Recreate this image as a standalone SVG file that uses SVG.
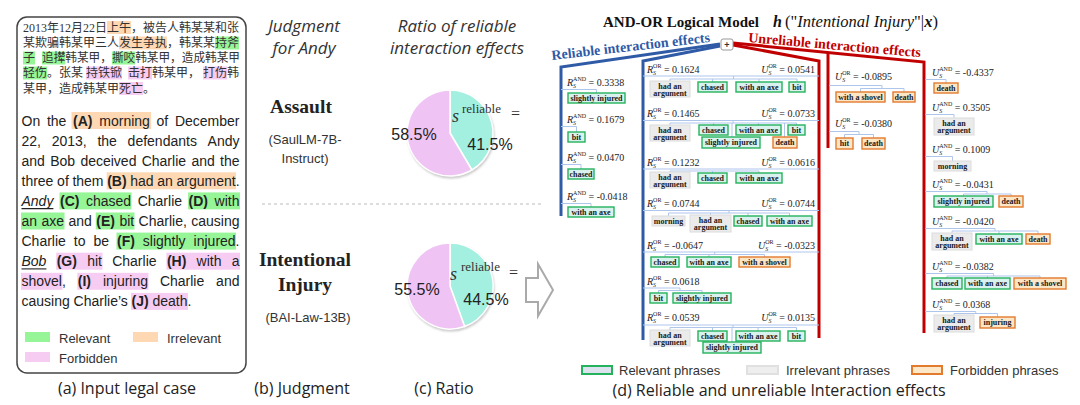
<svg xmlns="http://www.w3.org/2000/svg" width="1080" height="405" viewBox="0 0 1080 405">
<defs>
<style>
.cn{fill:none;stroke:#aec5ec;stroke-width:1}
.g{fill:#d9f2ee;stroke:#24b35c;stroke-width:1.4}
.y{fill:#ebebeb;stroke:#dcdcdc;stroke-width:1}
.o{fill:#fde6c6;stroke:#e27b2e;stroke-width:1.4}
.bt{font-family:"Liberation Serif",serif;font-weight:bold;font-size:8px;fill:#1a1a1a;text-anchor:middle}
.l{font-family:"Liberation Serif",serif;font-size:10px;fill:#222}
.i{font-style:italic}
.s{font-size:6px}
.en{font-family:"Liberation Sans",Arial,sans-serif;font-size:14px;fill:#222}
.b{font-weight:bold}
.zh{font-family:"Liberation Serif","Noto Sans CJK SC",serif;font-size:12px;fill:#333}
.cap{font-family:"Open Sans","Liberation Sans",sans-serif;font-size:16px;fill:#222;text-anchor:middle}
.ti{font-family:"Open Sans","Liberation Sans",sans-serif;font-style:italic;font-size:17px;fill:#333;text-anchor:middle}
.jb{font-family:"Liberation Serif",serif;font-weight:bold;font-size:19.5px;fill:#222;text-anchor:middle}
.md{font-family:"Liberation Sans",Arial,sans-serif;font-size:13px;fill:#333;text-anchor:middle}
.pct{font-family:"Liberation Sans",Arial,sans-serif;font-size:16px;fill:#222;text-anchor:middle}
.mf{font-family:"Liberation Serif",serif;fill:#333}
.lg{font-family:"Liberation Sans",Arial,sans-serif;font-size:13px;fill:#333}
.hg{fill:#96f596}.ho{fill:#fdd8b3}.hp{fill:#f7ccf3}
.bl{fill:none;stroke:#2f5aa6;stroke-width:3;stroke-linejoin:miter}
.rd{fill:none;stroke:#c00000;stroke-width:3;stroke-linejoin:miter}
</style>
<filter id="sh" x="-20%" y="-20%" width="140%" height="140%"><feGaussianBlur stdDeviation="1.3"/></filter>
</defs>
<rect width="1080" height="405" fill="#fff"/>

<g id="panel-a">
<rect x="17" y="17" width="229" height="356" rx="10" fill="#fff" stroke="#444" stroke-width="1.5"/>
<g id="zh-highlights">
<rect class="ho" x="107" y="21" width="24" height="13"/>
<rect class="ho" x="119" y="36.5" width="48" height="13"/>
<rect class="hg" x="215" y="36.5" width="24" height="13"/>
<rect class="hg" x="23" y="51.5" width="12" height="13"/>
<rect class="hg" x="42" y="51.5" width="23.3" height="13"/>
<rect class="hg" x="111.9" y="51.5" width="23.3" height="13"/>
<rect class="hg" x="23" y="66.5" width="24" height="13"/>
<rect class="hp" x="86" y="66.5" width="36" height="13"/>
<rect class="hp" x="128" y="66.5" width="24" height="13"/>
<rect class="hp" x="203" y="66.5" width="24" height="13"/>
<rect class="hp" x="119" y="82" width="24" height="13"/>
</g>
<text class="zh" x="23" y="31.5">2013年12月22日上午，被告人韩某某和张</text>
<text class="zh" x="23" y="47">某欺骗韩某甲三人发生争执，韩某某持斧</text>
<text class="zh" x="23" y="62">子</text>
<text class="zh" x="42" y="62" textLength="198" lengthAdjust="spacingAndGlyphs">追撵韩某甲，撕咬韩某甲，造成韩某甲</text>
<text class="zh" y="77"><tspan x="23">轻伤。张某</tspan><tspan x="86">持铁锨</tspan><tspan x="128">击打韩某甲，</tspan><tspan x="203">打伤韩</tspan></text>
<text class="zh" x="23" y="92.5">某甲，造成韩某甲死亡。</text>

<g id="en-highlights">
<rect class="ho" x="71.5" y="112" width="79.5" height="17"/>
<rect class="ho" x="106.7" y="172.3" width="129.3" height="17"/>
<rect class="hg" x="59.5" y="192.4" width="72" height="17"/>
<rect class="hg" x="188.1" y="192.4" width="51.9" height="17"/>
<rect class="hg" x="21" y="212.5" width="43.5" height="17"/>
<rect class="hg" x="95.8" y="212.5" width="38.7" height="17"/>
<rect class="hg" x="116.5" y="232.6" width="119.5" height="17"/>
<rect class="hp" x="56.2" y="252.7" width="46.3" height="17"/>
<rect class="hp" x="166.4" y="252.7" width="73.6" height="17"/>
<rect class="hp" x="21" y="272.8" width="41.5" height="17"/>
<rect class="hp" x="77.3" y="272.8" width="71.2" height="17"/>
<rect class="hp" x="131" y="292.9" width="57" height="17"/>
</g>
<text class="en" y="125.5"><tspan x="21.5">On</tspan><tspan x="46.9">the</tspan><tspan x="73.1" class="b">(A)</tspan><tspan x="99.3">morning</tspan><tspan x="156.5">of</tspan><tspan x="174.9">December</tspan></text>
<text class="en" y="145.6"><tspan x="21.5">22,</tspan><tspan x="51.7">2013,</tspan><tspan x="97.4">the</tspan><tspan x="127.6">defendants</tspan><tspan x="207.6">Andy</tspan></text>
<text class="en" y="165.7"><tspan x="21.5">and</tspan><tspan x="50.2">Bob</tspan><tspan x="80.4">deceived</tspan><tspan x="141.7">Charlie</tspan><tspan x="191.4">and</tspan><tspan x="220">the</tspan></text>
<text class="en" y="185.8"><tspan x="21.5">three</tspan><tspan x="57.1">of</tspan><tspan x="72.4">them</tspan><tspan x="107.2" class="b">(B)</tspan><tspan x="130.2">had</tspan><tspan x="157.2">an</tspan><tspan x="176.5">argument.</tspan></text>
<text class="en" y="205.9"><tspan x="21.5" class="i">Andy</tspan><tspan x="60" class="b">(C)</tspan><tspan x="86">chased</tspan><tspan x="137.7">Charlie</tspan><tspan x="188.6" class="b">(D)</tspan><tspan x="214.6">with</tspan></text>
<line x1="21.5" y1="208.6" x2="53.4" y2="208.6" stroke="#222" stroke-width="1.1"/>
<text class="en" y="226"><tspan x="21.5">an</tspan><tspan x="41.5">axe</tspan><tspan x="68.5">and</tspan><tspan x="96.3" class="b">(E)</tspan><tspan x="119.4">bit</tspan><tspan x="138.6">Charlie,</tspan><tspan x="191.3">causing</tspan></text>
<text class="en" y="246.1"><tspan x="21.5">Charlie</tspan><tspan x="73.8">to</tspan><tspan x="93.4">be</tspan><tspan x="117" class="b">(F)</tspan><tspan x="142.8">slightly</tspan><tspan x="193.6">injured.</tspan></text>
<text class="en" y="266.2"><tspan x="21.5" class="i">Bob</tspan><tspan x="56.7" class="b">(G)</tspan><tspan x="87.2">hit</tspan><tspan x="112.2">Charlie</tspan><tspan x="166.9" class="b">(H)</tspan><tspan x="196.6">with</tspan><tspan x="231.7">a</tspan></text>
<line x1="21.5" y1="268.9" x2="46.4" y2="268.9" stroke="#222" stroke-width="1.1"/>
<text class="en" y="286.3"><tspan x="21.5">shovel,</tspan><tspan x="77.8" class="b">(I)</tspan><tspan x="102.9">injuring</tspan><tspan x="159.9">Charlie</tspan><tspan x="216.1">and</tspan></text>
<text class="en" y="306.4"><tspan x="21.5">causing</tspan><tspan x="73.6">Charlie’s</tspan><tspan x="131.5" class="b">(J)</tspan><tspan x="152.5">death.</tspan></text>

<g id="legend-a">
<rect class="hg" x="25" y="332" width="25" height="10"/>
<text class="lg" x="59" y="343">Relevant</text>
<rect class="ho" x="133" y="332" width="25" height="10"/>
<text class="lg" x="167" y="343">Irrelevant</text>
<rect class="hp" x="25" y="352" width="25" height="10"/>
<text class="lg" x="59" y="363">Forbidden</text>
</g>
</g>
<text class="cap" x="127" y="394">(a) Input legal case</text>

<g id="panel-b">
<text class="ti" x="304" y="32">Judgment</text>
<text class="ti" x="304" y="54">for Andy</text>
<text class="jb" x="301" y="113">Assault</text>
<text class="md" x="305" y="144">(SaulLM-7B-</text>
<text class="md" x="305" y="163">Instruct)</text>
<line x1="262" y1="204" x2="542" y2="204" stroke="#bbb" stroke-width="1" stroke-dasharray="3 3"/>
<text class="jb" x="305" y="266">Intentional</text>
<text class="jb" x="305" y="291">Injury</text>
<text class="md" x="308" y="322">(BAI-Law-13B)</text>
</g>
<text class="cap" x="302" y="394">(b) Judgment</text>

<g id="panel-c">
<text class="ti" x="457" y="32">Ratio of reliable</text>
<text class="ti" x="457" y="54">interaction effects</text>
<g id="pie-1">
<circle cx="451" cy="135" r="43.5" fill="#888" opacity="0.45" filter="url(#sh)"/>
<path d="M450 133 L450 90 A43 43 0 0 1 471.9 170 Z" fill="#a3f0e1" stroke="#fff" stroke-width="1.5"/>
<path d="M450 133 L471.9 170 A43 43 0 1 1 450 90 Z" fill="#f0c3f5" stroke="#fff" stroke-width="1.5"/>
<text class="pct" x="414" y="140">58.5%</text>
<text class="pct" x="490" y="150">41.5%</text>
<text class="mf" x="452" y="122" font-size="18" font-style="italic">s</text>
<text class="mf" x="462" y="113" font-size="13">reliable</text>
<text class="mf" x="511" y="119" font-size="16">=</text>
</g>
<g id="pie-2">
<circle cx="451" cy="288" r="43.5" fill="#888" opacity="0.45" filter="url(#sh)"/>
<path d="M450 286 L450 243 A43 43 0 0 1 464.6 326.5 Z" fill="#a3f0e1" stroke="#fff" stroke-width="1.5"/>
<path d="M450 286 L464.6 326.5 A43 43 0 1 1 450 243 Z" fill="#f0c3f5" stroke="#fff" stroke-width="1.5"/>
<text class="pct" x="417" y="295">55.5%</text>
<text class="pct" x="486" y="305">44.5%</text>
<text class="mf" x="450" y="280" font-size="18" font-style="italic">s</text>
<text class="mf" x="461" y="271" font-size="13">reliable</text>
<text class="mf" x="509" y="278" font-size="16">=</text>
</g>
<polygon id="big-arrow" points="526,278 538,278 538,264 553,290 538,316 538,302 526,302" fill="#fff" stroke="#aaa" stroke-width="2" stroke-linejoin="miter"/>
</g>
<text class="cap" x="444" y="394">(c) Ratio</text>

<g id="panel-d">
<text x="603" y="27" font-family="Liberation Serif,serif" font-weight="bold" font-size="15" fill="#111">AND-OR Logical Model</text>
<text x="773" y="27" font-family="Liberation Serif,serif" font-weight="bold" font-style="italic" font-size="16" fill="#111">h</text>
<text x="785" y="27" font-family="Liberation Serif,serif" font-size="16.5" fill="#111">("<tspan font-style="italic">Intentional Injury</tspan>"|<tspan font-weight="bold" font-style="italic">x</tspan>)</text>
<text x="552" y="60" transform="rotate(-6.5 552 60)" font-family="Liberation Serif,serif" font-weight="bold" font-size="14" fill="#2f5aa6">Reliable interaction effects</text>
<text x="748" y="42" transform="rotate(5 748 42)" font-family="Liberation Serif,serif" font-weight="bold" font-size="14" fill="#c00000">Unreliable interaction effects</text>

<g id="branches">
<path class="bl" d="M720 44 L561 67 V216"/>
<path class="bl" d="M720 46 L643 61 V340"/>
<path class="rd" d="M733 45 L819 61 V338"/>
<path class="rd" d="M733 43 L924 62 V333"/>
<path class="rd" d="M828 52.5 V148"/>
</g>
<g id="plus-node">
<rect x="721" y="39" width="12" height="11" rx="2" fill="#fff" stroke="#999" stroke-width="1"/>
<text x="727" y="48" font-family="Liberation Sans,sans-serif" font-weight="bold" font-size="9" fill="#333" text-anchor="middle">+</text>
</g>

<g id="connectors">
<path class="cn" d="M561 89.5 H596.5 V93 M561 126.5 H576.5 V132 M561 164.5 H581 V169 M561 203.5 H591 V207"/>
<path class="cn" d="M643 76 H819 M733.5 76 V79 M670 79 H797 M670 79 V81 M712.5 79 V82 M759 79 V82 M797 79 V82"/>
<path class="cn" d="M643 120.5 H819 M733 120.5 V123 M670 123 H796.5 M670 123 V125 M713.5 123 V125 M758.5 123 V125 M796.5 123 V125 M732 123 V137 M784.5 123 V137"/>
<path class="cn" d="M643 169 H819 M670 171 H759 M670 171 V172 M712.5 171 V173 M759 171 V173"/>
<path class="cn" d="M643 210.5 H819 M729 210.5 V213 M668.5 213 H789.5 M668.5 213 V216 M710.5 213 V215 M748 213 V216 M789.5 213 V216"/>
<path class="cn" d="M643 252 H819 M714.75 252 V254.5 M665 254.5 H764.5 M665 254.5 V257 M709 254.5 V257 M764.5 254.5 V257"/>
<path class="cn" d="M643 288 H680 V290.5 M658.5 290.5 H702 M658.5 290.5 V293 M702 290.5 V293"/>
<path class="cn" d="M643 325 H819 M733 325 V327.5 M670 327.5 H796.5 M670 327.5 V330 M712.5 327.5 V331 M758 327.5 V331 M796.5 327.5 V331 M732 327.5 V342"/>
<path class="cn" d="M829 85.5 H882 V88.5 M860.5 88.5 H904 M860.5 88.5 V92 M904 88.5 V92"/>
<path class="cn" d="M829 131.5 H859 V134.5 M844.5 134.5 H873.5 M844.5 134.5 V138 M873.5 134.5 V138"/>
<path class="cn" d="M925 79.5 H946 V83 M925 114.5 H954 V118 M925 156.5 H952.5 V161"/>
<path class="cn" d="M925 191.5 H987 V194 M963.5 194 H1011 M963.5 194 V196 M1011 194 V196"/>
<path class="cn" d="M925 228.5 H995 V231 M952 231 H1038 M952 231 V233 M999 231 V234 M1038 231 V234"/>
<path class="cn" d="M925 273.5 H993.5 V276 M947 276 H1040 M947 276 V278 M987.5 276 V278 M1040 276 V278"/>
<path class="cn" d="M925 311.5 H975.75 V313.5 M954 313.5 H997.5 M954 313.5 V315 M997.5 313.5 V317"/>
</g>

<g id="reliable-and">
<g id="ra1"><text class="l" x="567" y="85.5"><tspan class="i">R</tspan><tspan class="i s" dy="2">S</tspan><tspan class="s" dx="-3" dy="-6.5">AND</tspan><tspan dy="4.5"> = 0.3338</tspan></text>
<rect class="g" x="568" y="93" width="57" height="10"/><text class="bt" x="596.5" y="100.8">slightly injured</text></g>
<g id="ra2"><text class="l" x="567" y="122.5"><tspan class="i">R</tspan><tspan class="i s" dy="2">S</tspan><tspan class="s" dx="-3" dy="-6.5">AND</tspan><tspan dy="4.5"> = 0.1679</tspan></text>
<rect class="g" x="568" y="132" width="17" height="10"/><text class="bt" x="576.5" y="139.8">bit</text></g>
<g id="ra3"><text class="l" x="567" y="160.5"><tspan class="i">R</tspan><tspan class="i s" dy="2">S</tspan><tspan class="s" dx="-3" dy="-6.5">AND</tspan><tspan dy="4.5"> = 0.0470</tspan></text>
<rect class="g" x="568" y="169" width="26" height="10"/><text class="bt" x="581" y="176.8">chased</text></g>
<g id="ra4"><text class="l" x="567" y="199.5"><tspan class="i">R</tspan><tspan class="i s" dy="2">S</tspan><tspan class="s" dx="-3" dy="-6.5">AND</tspan><tspan dy="4.5"> = -0.0418</tspan></text>
<rect class="g" x="568" y="207" width="46" height="10"/><text class="bt" x="591" y="214.8">with an axe</text></g>
</g>

<g id="reliable-or">
<g id="ro1">
<text class="l" x="647" y="72.5"><tspan class="i">R</tspan><tspan class="i s" dy="2">S</tspan><tspan class="s" dx="-3" dy="-6.5">OR</tspan><tspan dy="4.5"> = 0.1624</tspan></text>
<text class="l" x="815" y="72.5" text-anchor="end"><tspan class="i">U</tspan><tspan class="i s" dy="2">S</tspan><tspan class="s" dx="-3" dy="-6.5">OR</tspan><tspan dy="4.5"> = 0.0541</tspan></text>
<rect class="y" x="650" y="81" width="40" height="16"/><text class="bt" x="670" y="88.5">had an</text><text class="bt" x="670" y="95.5">argument</text>
<rect class="g" x="698" y="82" width="29" height="10"/><text class="bt" x="712.5" y="89.8">chased</text>
<rect class="g" x="736" y="82" width="46" height="10"/><text class="bt" x="759" y="89.8">with an axe</text>
<rect class="g" x="789" y="82" width="16" height="10"/><text class="bt" x="797" y="89.8">bit</text>
</g>
<g id="ro2">
<text class="l" x="647" y="116.5"><tspan class="i">R</tspan><tspan class="i s" dy="2">S</tspan><tspan class="s" dx="-3" dy="-6.5">OR</tspan><tspan dy="4.5"> = 0.1465</tspan></text>
<text class="l" x="815" y="116.5" text-anchor="end"><tspan class="i">U</tspan><tspan class="i s" dy="2">S</tspan><tspan class="s" dx="-3" dy="-6.5">OR</tspan><tspan dy="4.5"> = 0.0733</tspan></text>
<rect class="y" x="650" y="125" width="40" height="16"/><text class="bt" x="670" y="132.5">had an</text><text class="bt" x="670" y="139.5">argument</text>
<rect class="g" x="699" y="125" width="29" height="10"/><text class="bt" x="713.5" y="132.8">chased</text>
<rect class="g" x="736" y="125" width="45" height="10"/><text class="bt" x="758.5" y="132.8">with an axe</text>
<rect class="g" x="788" y="125" width="17" height="10"/><text class="bt" x="796.5" y="132.8">bit</text>
<rect class="g" x="702" y="137" width="58" height="11"/><text class="bt" x="731" y="145.3">slightly injured</text>
<rect class="o" x="773" y="137" width="24" height="11"/><text class="bt" x="785" y="145.3">death</text>
</g>
<g id="ro3">
<text class="l" x="647" y="165.5"><tspan class="i">R</tspan><tspan class="i s" dy="2">S</tspan><tspan class="s" dx="-3" dy="-6.5">OR</tspan><tspan dy="4.5"> = 0.1232</tspan></text>
<text class="l" x="815" y="165.5" text-anchor="end"><tspan class="i">U</tspan><tspan class="i s" dy="2">S</tspan><tspan class="s" dx="-3" dy="-6.5">OR</tspan><tspan dy="4.5"> = 0.0616</tspan></text>
<rect class="y" x="650" y="172" width="40" height="16"/><text class="bt" x="670" y="179.5">had an</text><text class="bt" x="670" y="186.5">argument</text>
<rect class="g" x="698" y="173" width="29" height="10"/><text class="bt" x="712.5" y="180.8">chased</text>
<rect class="g" x="736" y="173" width="46" height="10"/><text class="bt" x="759" y="180.8">with an axe</text>
</g>
<g id="ro4">
<text class="l" x="647" y="206.5"><tspan class="i">R</tspan><tspan class="i s" dy="2">S</tspan><tspan class="s" dx="-3" dy="-6.5">OR</tspan><tspan dy="4.5"> = 0.0744</tspan></text>
<text class="l" x="815" y="206.5" text-anchor="end"><tspan class="i">U</tspan><tspan class="i s" dy="2">S</tspan><tspan class="s" dx="-3" dy="-6.5">OR</tspan><tspan dy="4.5"> = 0.0744</tspan></text>
<rect class="y" x="652" y="216" width="33" height="10"/><text class="bt" x="668.5" y="223.8">morning</text>
<rect class="y" x="690" y="215" width="41" height="17"/><text class="bt" x="710.5" y="222.5">had an</text><text class="bt" x="710.5" y="230">argument</text>
<rect class="g" x="734" y="216" width="28" height="10"/><text class="bt" x="748" y="223.8">chased</text>
<rect class="g" x="767" y="216" width="45" height="10"/><text class="bt" x="789.5" y="223.8">with an axe</text>
</g>
<g id="ro5">
<text class="l" x="647" y="248.5"><tspan class="i">R</tspan><tspan class="i s" dy="2">S</tspan><tspan class="s" dx="-3" dy="-6.5">OR</tspan><tspan dy="4.5"> = -0.0647</tspan></text>
<text class="l" x="815" y="248.5" text-anchor="end"><tspan class="i">U</tspan><tspan class="i s" dy="2">S</tspan><tspan class="s" dx="-3" dy="-6.5">OR</tspan><tspan dy="4.5"> = -0.0323</tspan></text>
<rect class="g" x="651" y="257" width="28" height="10"/><text class="bt" x="665" y="264.8">chased</text>
<rect class="g" x="687" y="257" width="44" height="10"/><text class="bt" x="709" y="264.8">with an axe</text>
<rect class="o" x="739" y="257" width="51" height="10"/><text class="bt" x="764.5" y="264.8">with a shovel</text>
</g>
<g id="ro6">
<text class="l" x="647" y="284.5"><tspan class="i">R</tspan><tspan class="i s" dy="2">S</tspan><tspan class="s" dx="-3" dy="-6.5">OR</tspan><tspan dy="4.5"> = 0.0618</tspan></text>
<rect class="g" x="650" y="293" width="17" height="10"/><text class="bt" x="658.5" y="300.8">bit</text>
<rect class="g" x="673" y="293" width="58" height="10"/><text class="bt" x="702" y="300.8">slightly injured</text>
</g>
<g id="ro7">
<text class="l" x="647" y="320.5"><tspan class="i">R</tspan><tspan class="i s" dy="2">S</tspan><tspan class="s" dx="-3" dy="-6.5">OR</tspan><tspan dy="4.5"> = 0.0539</tspan></text>
<text class="l" x="815" y="320.5" text-anchor="end"><tspan class="i">U</tspan><tspan class="i s" dy="2">S</tspan><tspan class="s" dx="-3" dy="-6.5">OR</tspan><tspan dy="4.5"> = 0.0135</tspan></text>
<rect class="y" x="650" y="330" width="40" height="16"/><text class="bt" x="670" y="337.5">had an</text><text class="bt" x="670" y="344.5">argument</text>
<rect class="g" x="698" y="331" width="29" height="10"/><text class="bt" x="712.5" y="338.8">chased</text>
<rect class="g" x="736" y="331" width="44" height="10"/><text class="bt" x="758" y="338.8">with an axe</text>
<rect class="g" x="788" y="331" width="17" height="10"/><text class="bt" x="796.5" y="338.8">bit</text>
<rect class="g" x="703" y="342" width="58" height="11"/><text class="bt" x="732" y="350.3">slightly injured</text>
</g>
</g>

<g id="unreliable-or">
<g id="uo1">
<text class="l" x="835" y="79.5"><tspan class="i">U</tspan><tspan class="i s" dy="2">S</tspan><tspan class="s" dx="-3" dy="-6.5">OR</tspan><tspan dy="4.5"> = -0.0895</tspan></text>
<rect class="o" x="836" y="92" width="49" height="10"/><text class="bt" x="860.5" y="99.8">with a shovel</text>
<rect class="o" x="893" y="92" width="22" height="10"/><text class="bt" x="904" y="99.8">death</text>
</g>
<g id="uo2">
<text class="l" x="835" y="126.5"><tspan class="i">U</tspan><tspan class="i s" dy="2">S</tspan><tspan class="s" dx="-3" dy="-6.5">OR</tspan><tspan dy="4.5"> = -0.0380</tspan></text>
<rect class="o" x="836" y="138" width="17" height="11"/><text class="bt" x="844.5" y="146.3">hit</text>
<rect class="o" x="862" y="138" width="23" height="11"/><text class="bt" x="873.5" y="146.3">death</text>
</g>
</g>

<g id="unreliable-and">
<g id="ua1">
<text class="l" x="932" y="75.5"><tspan class="i">U</tspan><tspan class="i s" dy="2">S</tspan><tspan class="s" dx="-3" dy="-6.5">AND</tspan><tspan dy="4.5"> = -0.4337</tspan></text>
<rect class="o" x="934" y="83" width="24" height="10"/><text class="bt" x="946" y="90.8">death</text>
</g>
<g id="ua2">
<text class="l" x="932" y="110.5"><tspan class="i">U</tspan><tspan class="i s" dy="2">S</tspan><tspan class="s" dx="-3" dy="-6.5">AND</tspan><tspan dy="4.5"> = 0.3505</tspan></text>
<rect class="y" x="934" y="118" width="40" height="17"/><text class="bt" x="954" y="125.5">had an</text><text class="bt" x="954" y="133">argument</text>
</g>
<g id="ua3">
<text class="l" x="932" y="152.5"><tspan class="i">U</tspan><tspan class="i s" dy="2">S</tspan><tspan class="s" dx="-3" dy="-6.5">AND</tspan><tspan dy="4.5"> = 0.1009</tspan></text>
<rect class="y" x="934" y="161" width="37" height="10"/><text class="bt" x="952.5" y="168.8">morning</text>
</g>
<g id="ua4">
<text class="l" x="932" y="187.5"><tspan class="i">U</tspan><tspan class="i s" dy="2">S</tspan><tspan class="s" dx="-3" dy="-6.5">AND</tspan><tspan dy="4.5"> = -0.0431</tspan></text>
<rect class="g" x="934" y="196" width="59" height="11"/><text class="bt" x="963.5" y="204.3">slightly injured</text>
<rect class="o" x="999" y="196" width="24" height="11"/><text class="bt" x="1011" y="204.3">death</text>
</g>
<g id="ua5">
<text class="l" x="932" y="224.5"><tspan class="i">U</tspan><tspan class="i s" dy="2">S</tspan><tspan class="s" dx="-3" dy="-6.5">AND</tspan><tspan dy="4.5"> = -0.0420</tspan></text>
<rect class="y" x="932" y="233" width="40" height="17"/><text class="bt" x="952" y="240.5">had an</text><text class="bt" x="952" y="248">argument</text>
<rect class="g" x="976" y="234" width="46" height="10"/><text class="bt" x="999" y="241.8">with an axe</text>
<rect class="o" x="1026" y="234" width="24" height="10"/><text class="bt" x="1038" y="241.8">death</text>
</g>
<g id="ua6">
<text class="l" x="932" y="269.5"><tspan class="i">U</tspan><tspan class="i s" dy="2">S</tspan><tspan class="s" dx="-3" dy="-6.5">AND</tspan><tspan dy="4.5"> = -0.0382</tspan></text>
<rect class="g" x="932" y="278" width="30" height="11"/><text class="bt" x="947" y="286.3">chased</text>
<rect class="g" x="965" y="278" width="45" height="11"/><text class="bt" x="987.5" y="286.3">with an axe</text>
<rect class="o" x="1014" y="278" width="52" height="11"/><text class="bt" x="1040" y="286.3">with a shovel</text>
</g>
<g id="ua7">
<text class="l" x="932" y="307.5"><tspan class="i">U</tspan><tspan class="i s" dy="2">S</tspan><tspan class="s" dx="-3" dy="-6.5">AND</tspan><tspan dy="4.5"> = 0.0368</tspan></text>
<rect class="y" x="934" y="315" width="40" height="17"/><text class="bt" x="954" y="322.5">had an</text><text class="bt" x="954" y="330">argument</text>
<rect class="o" x="980" y="317" width="35" height="11"/><text class="bt" x="997.5" y="325.3">injuring</text>
</g>
</g>

<g id="legend-d">
<rect x="582" y="366" width="30" height="8" fill="#dce3ef" stroke="#24b35c" stroke-width="2"/>
<text class="lg" x="619" y="374.5">Relevant phrases</text>
<rect x="747" y="366" width="31" height="8" fill="#eeeeee" stroke="#e0e0e0" stroke-width="2"/>
<text class="lg" x="786" y="374.5">Irrelevant phrases</text>
<rect x="912" y="366" width="30" height="8" fill="#fde9c9" stroke="#e27b2e" stroke-width="2"/>
<text class="lg" x="950" y="374.5">Forbidden phrases</text>
</g>
</g>
<text class="cap" x="779" y="396">(d) Reliable and unreliable Interaction effects</text>
</svg>
